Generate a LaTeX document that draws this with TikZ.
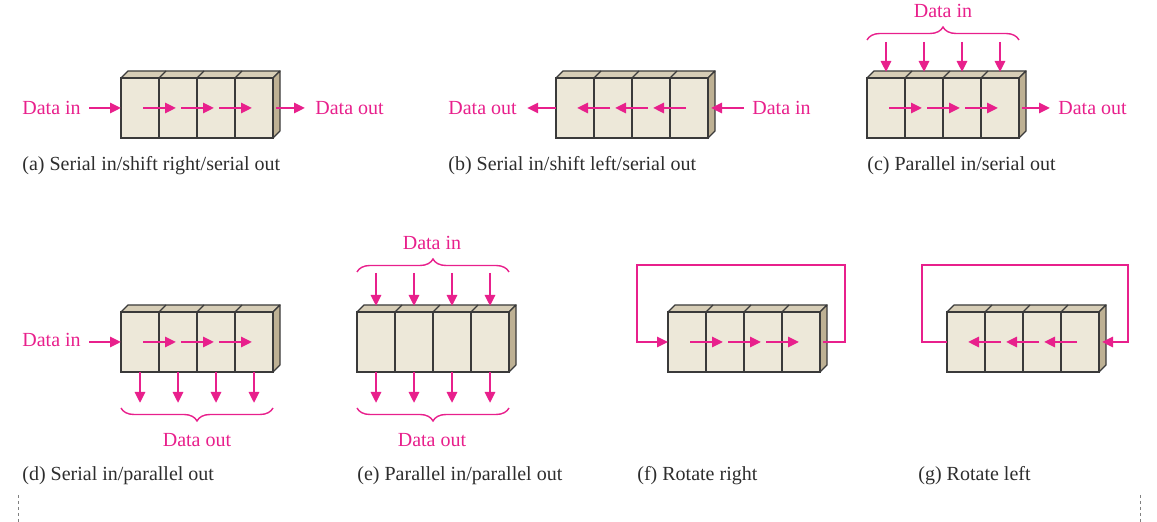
\documentclass[tikz,border=0pt]{standalone}
\usepackage{fontspec}
\setmainfont{Liberation Serif}
\usetikzlibrary{arrows.meta,decorations.pathreplacing}
\definecolor{regpink}{RGB}{232,32,140}
\definecolor{regfront}{RGB}{237,232,217}
\definecolor{regtop}{RGB}{214,205,182}
\definecolor{regside}{RGB}{190,177,148}
\definecolor{regedge}{RGB}{58,58,58}
\definecolor{captext}{RGB}{45,45,45}
\newcommand{\shreg}[3]{%
\filldraw[topface] (#2,#3) -- ++(7,-7) -- ++(152,0) -- ++(-7,7) -- cycle;
\filldraw[sideface] (#2+152,#3) -- ++(7,-7) -- ++(0,60) -- ++(-7,7) -- cycle;
\foreach \i in {1,...,4}
  \node[cell] (#1\i) at (#2+38*\i-19,#3+30) {};
\foreach \i in {1,2,3}
  \draw[edgeline] (#1\i.north east) -- ++(7,-7);
\coordinate (#1r) at (#2+155,#3+30);
}
\begin{document}
\begin{tikzpicture}[x=0.5pt,y=-0.5pt,
  cell/.style={draw=regedge, fill=regfront, line width=0.6pt, minimum width=19pt, minimum height=30pt, inner sep=0pt, outer sep=0pt},
  topface/.style={fill=regtop, draw=regedge, line width=0.6pt, line join=round},
  sideface/.style={fill=regside, draw=regedge, line width=0.6pt, line join=round},
  edgeline/.style={draw=regedge, line width=0.6pt},
  arr/.style={draw=regpink, line width=1.3pt, -{Triangle[length=5.5pt,width=5pt]}},
  shiftarr/.style={arr, shorten <=1.5pt, shorten >=1pt},
  brc/.style={draw=regpink, line width=0.7pt, decorate, decoration={brace, amplitude=6.5pt}},
  lbl/.style={text=regpink, font=\fontsize{10}{12}\selectfont, inner sep=0pt},
  capline/.style={text=captext, font=\fontsize{10}{12}\selectfont, inner sep=0pt, anchor=base west}]
\useasboundingbox (0,0) rectangle (1157,522);

\shreg{a}{121}{78}
\node[lbl, anchor=base west] (ain) at (22,115) {Data in};
\node[lbl, anchor=base west] (aout) at (315,115) {Data out};
\draw[arr, shorten <=4pt] (ain.east |- a1.west) -- (a1.west);
\foreach \p/\q in {1/2,2/3,3/4} \draw[shiftarr] (a\p.center) -- (a\q.center);
\draw[arr, shorten >=5pt] (ar) -- (aout.west |- ar);
\node[capline] (capa) at (22,171) {(a) Serial in/shift right/serial out};

\shreg{b}{556}{78}
\node[lbl, anchor=base west] (bout) at (448,115) {Data out};
\node[lbl, anchor=base west] (bin) at (752,115) {Data in};
\draw[arr, shorten <=4pt] (bin.west |- br) -- (br);
\foreach \p/\q in {4/3,3/2,2/1} \draw[shiftarr] (b\p.center) -- (b\q.center);
\draw[arr, shorten >=5pt] (b1.west) -- (bout.east |- b1.west);
\node[capline] (capb) at (448,171) {(b) Serial in/shift left/serial out};

\shreg{c}{867}{78}
\node[lbl, anchor=base] (cin) at (943,18) {Data in};
\draw[brc] ([yshift=19pt]c1.north west) -- ([yshift=19pt]c4.north east);
\foreach \i in {1,...,4} \draw[arr] ([yshift=18pt]c\i.north) -- ([yshift=3pt]c\i.north);
\foreach \p/\q in {1/2,2/3,3/4} \draw[shiftarr] (c\p.center) -- (c\q.center);
\node[lbl, anchor=base west] (cout) at (1058,115) {Data out};
\draw[arr, shorten >=4pt] (cr) -- (cout.west |- cr);
\node[capline] (capc) at (867,171) {(c) Parallel in/serial out};

\shreg{d}{121}{312}
\node[lbl, anchor=base west] (din) at (22,347) {Data in};
\draw[arr, shorten <=4pt] (din.east |- d1.west) -- (d1.west);
\foreach \p/\q in {1/2,2/3,3/4} \draw[shiftarr] (d\p.center) -- (d\q.center);
\foreach \i in {1,...,4} \draw[arr] (d\i.south) -- ([yshift=-15.5pt]d\i.south);
\draw[brc] ([yshift=-18pt]d4.south east) -- ([yshift=-18pt]d1.south west);
\node[lbl, anchor=base] (dout) at (197,447) {Data out};
\node[capline] (capd) at (22,481) {(d) Serial in/parallel out};

\shreg{e}{357}{312}
\node[lbl, anchor=base] (ein) at (432,250) {Data in};
\draw[brc] ([yshift=20pt]e1.north west) -- ([yshift=20pt]e4.north east);
\foreach \i in {1,...,4} \draw[arr] ([yshift=19.5pt]e\i.north) -- ([yshift=3pt]e\i.north);
\foreach \i in {1,...,4} \draw[arr] (e\i.south) -- ([yshift=-15.5pt]e\i.south);
\draw[brc] ([yshift=-18pt]e4.south east) -- ([yshift=-18pt]e1.south west);
\node[lbl, anchor=base] (eout) at (432,447) {Data out};
\node[capline] (cape) at (357,481) {(e) Parallel in/parallel out};

\shreg{f}{668}{312}
\foreach \p/\q in {1/2,2/3,3/4} \draw[shiftarr] (f\p.center) -- (f\q.center);
\draw[arr] (fr) -- ++(22,0) |- ([shift={(-15.5pt,38.5pt)}]f1.west) |- (f1.west);
\node[capline] (capf) at (637,481) {(f) Rotate right};

\shreg{g}{947}{312}
\foreach \p/\q in {4/3,3/2,2/1} \draw[shiftarr] (g\p.center) -- (g\q.center);
\draw[arr] (g1.west) -- ++(-25,0) |- ([shift={(13pt,38.5pt)}]gr) |- (gr);
\node[capline] (capg) at (918,481) {(g) Rotate left};

\draw[gray, line width=0.4pt, dash pattern=on 1.5pt off 1.5pt] (18,495) -- (18,522);
\draw[gray, line width=0.4pt, dash pattern=on 1.5pt off 1.5pt] (1140,495) -- (1140,522);
\end{tikzpicture}
\end{document}
